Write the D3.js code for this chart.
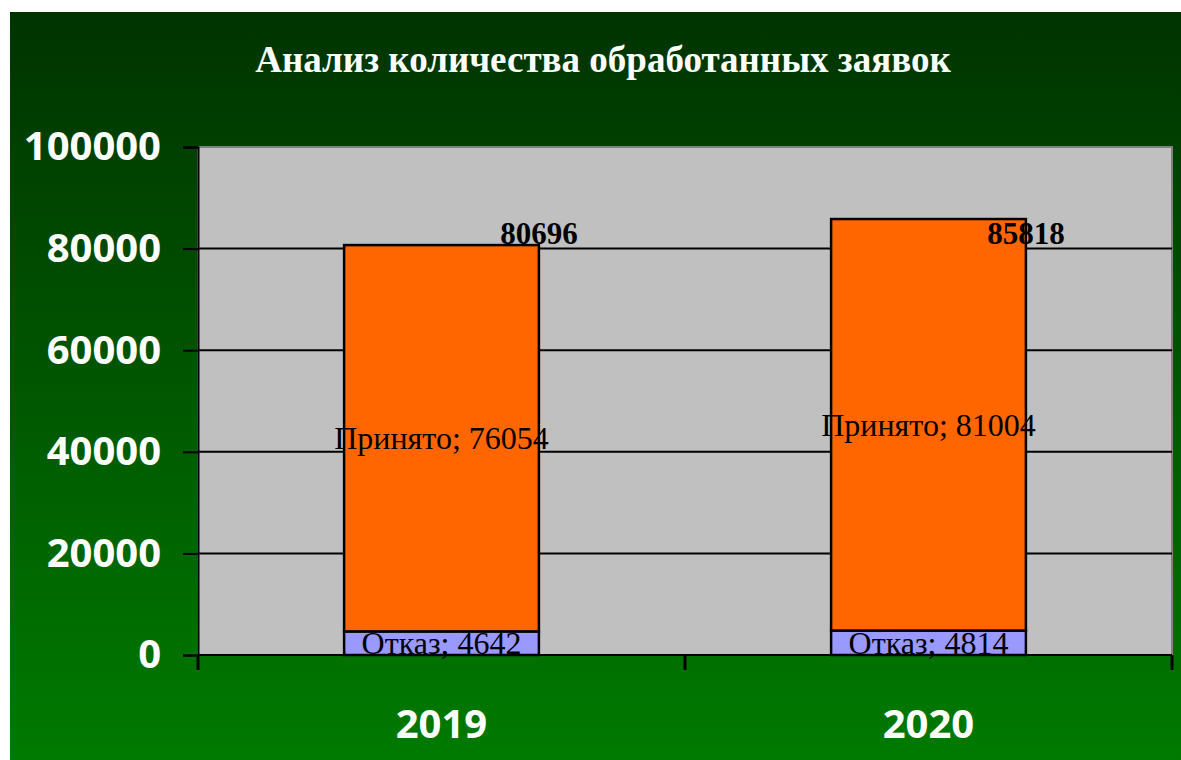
<!DOCTYPE html>
<html>
<head>
<meta charset="utf-8">
<script src="https://cdn.jsdelivr.net/npm/d3@7"></script>
<style>
  html, body { margin: 0; padding: 0; background: #fff; }
  svg { display: block; }
</style>
</head>
<body>
<div id="chart"></div>
<script>
// DATA
const years = ['2019', '2020'];
const rejected = [4642, 4814];     // Отказ
const accepted = [76054, 81004];   // Принято
const totals = [80696, 85818];
const yTicks = [0, 20000, 40000, 60000, 80000, 100000];

const W = 1181, H = 760;
const margin = { top: 147, right: 9, bottom: 105, left: 198 };

const svg = d3.select('#chart').append('svg')
    .attr('width', W)
    .attr('height', H);

// BACKGROUND GRADIENT
const defs = svg.append('defs');
const grad = defs.append('linearGradient')
    .attr('id', 'bg')
    .attr('x1', 0).attr('y1', 0).attr('x2', 0).attr('y2', 1);
grad.append('stop').attr('offset', '0%').attr('stop-color', '#003300');
grad.append('stop').attr('offset', '100%').attr('stop-color', '#007a00');

svg.append('rect')
    .attr('x', 10).attr('y', 12)
    .attr('width', W - 10).attr('height', H - 12)
    .attr('fill', 'url(#bg)');

// SCALES
const x = d3.scaleBand()
    .domain(years)
    .range([margin.left, W - margin.right])
    .paddingInner(0.6)
    .paddingOuter(0.3);

const y = d3.scaleLinear()
    .domain([0, 100000])
    .range([H - margin.bottom, margin.top]);

const plotW = W - margin.right - margin.left;

// PLOT AREA
svg.append('rect')
    .attr('x', margin.left).attr('y', margin.top)
    .attr('width', plotW).attr('height', y(0) - margin.top)
    .attr('fill', '#c0c0c0')
    .attr('stroke', '#808080')
    .attr('stroke-width', 2);

// GRID LINES
svg.append('g')
    .selectAll('line')
    .data(yTicks.filter(d => d > 0 && d < 100000))
    .join('line')
    .attr('x1', margin.left).attr('x2', margin.left + plotW)
    .attr('y1', d => y(d)).attr('y2', d => y(d))
    .attr('stroke', '#000')
    .attr('stroke-width', 2);

// BARS
const stack = years.map((yr, i) => ({
    year: yr,
    segs: [
        { key: 'Отказ', y0: 0, y1: rejected[i], color: '#9999ff' },
        { key: 'Принято', y0: rejected[i], y1: rejected[i] + accepted[i], color: '#ff6600' }
    ],
    total: totals[i]
}));

const barG = svg.append('g').selectAll('g')
    .data(stack)
    .join('g');

barG.selectAll('rect')
    .data(d => d.segs.map(s => ({ ...s, year: d.year })))
    .join('rect')
    .attr('x', d => x(d.year))
    .attr('width', x.bandwidth())
    .attr('y', d => y(d.y1))
    .attr('height', d => y(d.y0) - y(d.y1))
    .attr('fill', d => d.color)
    .attr('stroke', '#000')
    .attr('stroke-width', 2.5);

// AXES
const yAxis = svg.append('g')
    .attr('transform', `translate(${margin.left},0)`)
    .call(d3.axisLeft(y).tickValues(yTicks).tickSize(15).tickPadding(22).tickFormat(d3.format('d')));
yAxis.select('.domain').attr('stroke', '#000').attr('stroke-width', 2);
yAxis.selectAll('.tick line').attr('stroke', '#000').attr('stroke-width', 2);
yAxis.selectAll('.tick text')
    .attr('fill', '#fff')
    .attr('font-family', '"Open Sans", sans-serif')
    .attr('font-weight', 'bold')
    .attr('font-size', 40);

const xAxis = svg.append('g')
    .attr('transform', `translate(0,${y(0)})`);
xAxis.append('line')
    .attr('x1', margin.left).attr('x2', margin.left + plotW)
    .attr('stroke', '#000').attr('stroke-width', 2);
const catTicks = [margin.left, ...years.slice(1).map(yr => x(yr) - x.step() * x.paddingInner() / 2), margin.left + plotW];
xAxis.selectAll('.ctick')
    .data(catTicks)
    .join('line')
    .attr('x1', d => d).attr('x2', d => d)
    .attr('y1', 0).attr('y2', 15)
    .attr('stroke', '#000').attr('stroke-width', 3);
xAxis.selectAll('text')
    .data(years)
    .join('text')
    .attr('x', d => x(d) + x.bandwidth() / 2)
    .attr('y', 83)
    .attr('text-anchor', 'middle')
    .attr('fill', '#fff')
    .attr('font-family', '"Open Sans", sans-serif')
    .attr('font-weight', 'bold')
    .attr('font-size', 40)
    .text(d => d);

// SEGMENT LABELS
barG.selectAll('text.seg')
    .data(d => d.segs.map(s => ({ ...s, year: d.year })))
    .join('text')
    .attr('class', 'seg')
    .attr('x', d => x(d.year) + x.bandwidth() / 2)
    .attr('y', d => (y(d.y0) + y(d.y1)) / 2)
    .attr('dy', '0.34em')
    .attr('text-anchor', 'middle')
    .attr('font-family', '"Liberation Serif", "Times New Roman", serif')
    .attr('font-size', 32)
    .attr('fill', '#000')
    .text(d => `${d.key}; ${d.y1 - d.y0}`);

// TOTAL LABELS (all sit on one line, level with the lowest total)
const totalY = y(d3.min(totals)) - 1;
barG.append('text')
    .attr('x', d => x(d.year) + x.bandwidth())
    .attr('y', totalY)
    .attr('text-anchor', 'middle')
    .attr('font-family', '"Liberation Serif", "Times New Roman", serif')
    .attr('font-weight', 'bold')
    .attr('font-size', 31)
    .attr('fill', '#000')
    .text(d => d.total);

// TITLE
svg.append('text')
    .attr('x', 603)
    .attr('y', 72)
    .attr('text-anchor', 'middle')
    .attr('font-family', '"Liberation Serif", "Times New Roman", serif')
    .attr('font-weight', 'bold')
    .attr('font-size', 37)
    .attr('fill', '#fff')
    .text('Анализ количества обработанных заявок');
</script>
</body>
</html>
